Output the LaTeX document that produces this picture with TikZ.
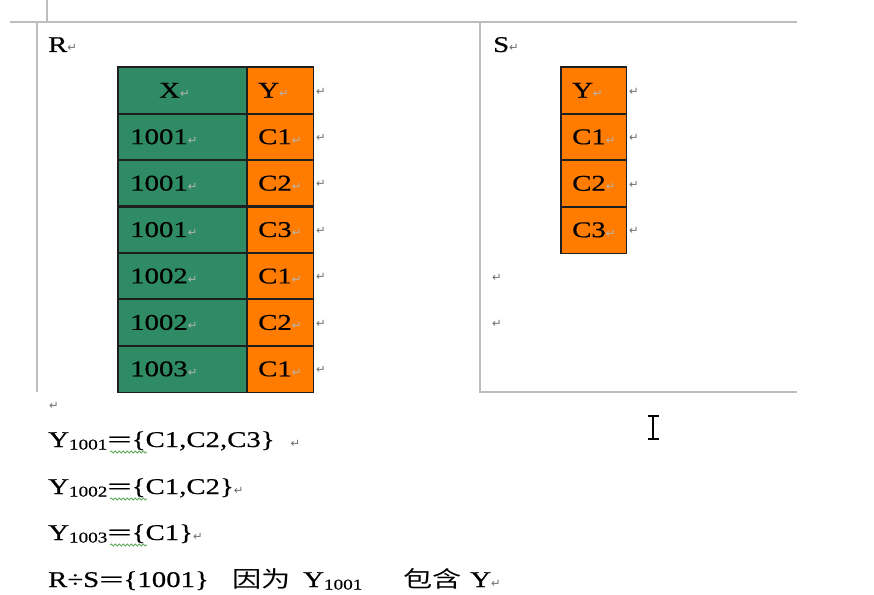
\documentclass[tikz,border=0pt]{standalone}
\usepackage{graphicx}
\usepackage{fontspec}
\setmainfont{Liberation Serif}[FakeStretch=1.28, FakeBold=0.5]
\newfontfamily\cjkfont{Noto Sans CJK SC}[FakeStretch=1.3]
\newfontfamily\markfont{DejaVu Sans}
\usetikzlibrary{decorations.pathmorphing}
\definecolor{tgreen}{HTML}{2E8B64}
\definecolor{torange}{HTML}{FF7C00}
\definecolor{pageline}{HTML}{BDBDBD}
\definecolor{markdark}{HTML}{6E6E6E}
\definecolor{marklight}{HTML}{B4B4B4}
\definecolor{wavy}{HTML}{5DAA5D}
\newcommand\retdark{{\markfont\fontsize{11.5}{11.5}\selectfont\textcolor{markdark}{↵}}}
\newcommand\retlight{{\markfont\fontsize{11.5}{11.5}\selectfont\textcolor{marklight}{↵}}}
\newcommand\subtx[1]{\raisebox{-2.5pt}{\fontsize{15}{15}\selectfont #1}}
\newcommand\weq{\scalebox{1.5}[1]{=}}
\begin{document}
\begin{tikzpicture}[x=1pt,y=-1pt,
  txt/.style={anchor=base west, inner sep=0pt, font=\fontsize{22.5}{27}\selectfont},
  cellbase/.style={anchor=north west, inner sep=0pt, minimum height=46.43pt},
  cellg/.style={cellbase, fill=tgreen, minimum width=129pt},
  cello/.style={cellbase, fill=torange, minimum width=66pt},
  scell/.style={cellbase, fill=torange, minimum width=65pt, minimum height=46.5pt},
  cellborder/.style={draw=black!88, line width=1.7pt},
  pagel/.style={draw=pageline, line width=1.2pt},
  wavyline/.style={draw=wavy, line width=0.8pt, decorate, decoration={snake, amplitude=1pt, segment length=4pt}}]
\useasboundingbox (0,0) rectangle (874,594);
\fill[white] (0,0) rectangle (874,594);
% page borders
\draw[pagel] (10,22) -- (797,22);
\draw[pagel] (47,0) -- (47,22);
\draw[pagel] (37,22) -- (37,392);
\draw[pagel] (480,22) -- (480,392) -- (797,392);
% labels
\node[txt] (rlab) at (48,52) {R\retdark};
\node[txt] (slab) at (493,52) {S\retdark};
% table R
\foreach \i in {0,...,6} {
  \node[cellg] (rx\i) at (118,{67+46.43*\i}) {};
  \node[cello] (ry\i) at (247,{67+46.43*\i}) {};
}
\foreach \i in {0,...,6} {
  \draw[cellborder] (rx\i.north west) rectangle (rx\i.south east);
  \draw[cellborder] (ry\i.north west) rectangle (ry\i.south east);
}
\foreach \i/\b in {0/Y,1/C1,2/C2,3/C3,4/C1,5/C2,6/C1} {
  \node[txt] (ryt\i) at (258,{97.7+46.43*\i}) {\b\retlight};
  \node[txt] (rm\i) at (316,{95+46.43*\i}) {\retdark};
}
\node[txt] (rxt0) at (159,97.7) {X\retlight};
\foreach \i/\a in {1/1001,2/1001,3/1001,4/1002,5/1002,6/1003} {
  \node[txt] (rxt\i) at (130,{97.7+46.43*\i}) {\a\retlight};
}
% table S
\foreach \i in {0,...,3} {
  \node[scell] (s\i) at (561,{67+46.5*\i}) {};
}
\foreach \i/\b in {0/Y,1/C1,2/C2,3/C3} {
  \draw[cellborder] (s\i.north west) rectangle (s\i.south east);
  \node[txt] (st\i) at (572,{97.7+46.5*\i}) {\b\retlight};
  \node[txt] (sm\i) at (629,{95+46.5*\i}) {\retdark};
}
\node[txt] (se1) at (492,281) {\retdark};
\node[txt] (se2) at (492,327) {\retdark};
% lower text
\node[txt] (l0) at (49,409) {\retdark};
\node[txt] (l1) at (48,447) {Y\subtx{1001}\weq\{C1,C2,C3\}\hspace{16pt}\retdark};
\node[txt] (l2) at (48,494) {Y\subtx{1002}\weq\{C1,C2\}\retdark};
\node[txt] (l3) at (48,540) {Y\subtx{1003}\weq\{C1\}\retdark};
\draw[wavyline] (110,452) -- (147,452);
\draw[wavyline] (110,499) -- (147,499);
\draw[wavyline] (110,545) -- (147,545);
\node[txt] (l4a) at (48,587) {R÷S\weq\{1001\}};
\node[txt] (l4b) at (232,587) {\cjkfont 因为};
\node[txt] (l4c) at (303,587) {Y\subtx{1001}};
\node[txt] (l4d) at (403,587) {\cjkfont 包含};
\node[txt] (l4e) at (470,587) {Y\retdark};
% text cursor
\draw[line width=1.3pt] (653,416) -- (653,439);
\draw[line width=1.1pt] (648,416) -- (659,416);
\draw[line width=1.1pt] (648,439) -- (659,439);
\end{tikzpicture}
\end{document}
